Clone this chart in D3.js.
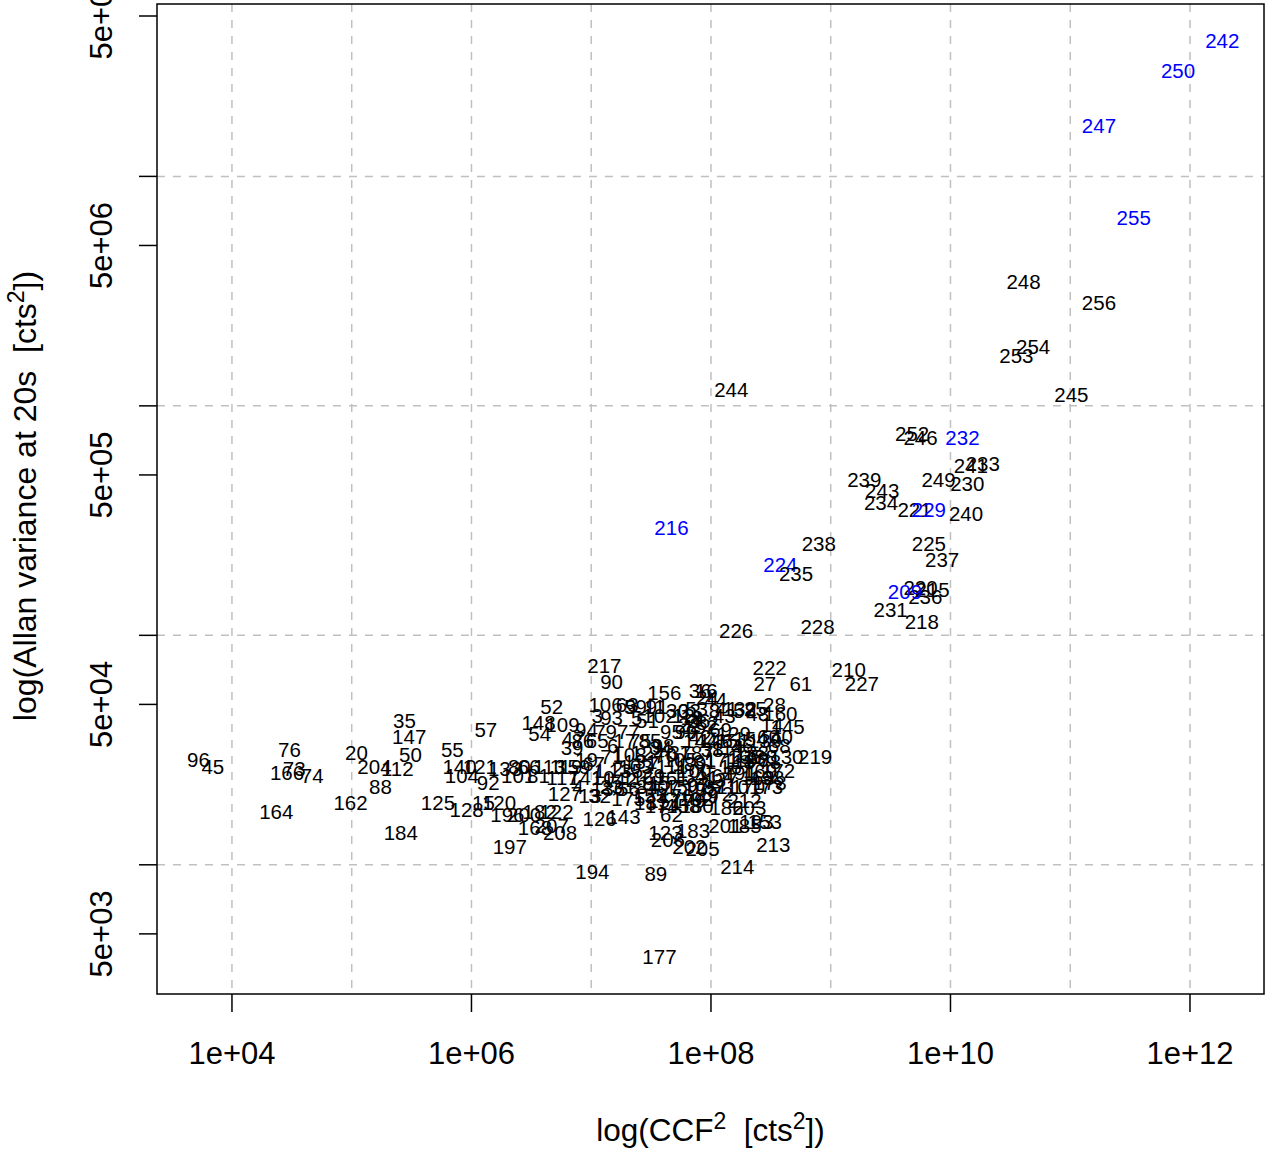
<!DOCTYPE html>
<html>
<head>
<meta charset="utf-8">
<script src="https://cdn.jsdelivr.net/npm/d3@7"></script>
<style>
  body { margin: 0; background: #fff; }
  text { font-family: "Liberation Sans", Arial, sans-serif; }
</style>
</head>
<body>
<div id="chart"></div>
<script>
// point ids (labels drawn at each point), log10 of CCF^2 and log10 of Allan variance
const ids = [
  242, 250, 247, 255, 248, 256, 254, 253, 245, 244,
  252, 246, 232, 241, 233, 239, 249, 230, 243, 234,
  221, 229, 240, 216, 238, 225, 237, 224, 235, 220,
  215, 236, 209, 231, 218, 228, 226, 222, 210, 27,
  61, 227, 217, 90,
  96, 45, 76, 73, 166, 74, 164, 20, 35, 147,
  50, 204, 112, 88, 162, 184, 125, 55, 140, 121,
  104, 92, 57, 128, 15, 120, 197, 52, 148, 109,
  54, 133, 196, 200, 182, 122, 168, 207, 208, 127,
  194, 89, 177, 32, 175, 126, 143, 62, 123, 183,
  206, 202, 205, 214, 213, 212, 186, 203, 201, 185,
  193, 153, 130, 219, 188, 156, 36, 16, 44, 24,
  106, 63, 11, 9, 3, 93, 5, 102, 28, 160,
  25, 48, 41, 132, 145, 14, 40, 139,
  47, 86, 65, 6, 17, 75, 85, 34, 95, 99,
  152, 69, 129, 42, 12, 18, 26, 82, 22, 67,
  71, 108, 124, 70, 37, 187, 38, 114, 46, 138,
  159, 1, 2, 103, 7, 111, 189, 31, 171, 118,
  190, 78, 117, 141, 10, 142, 116, 29, 161, 134,
  21, 64, 191, 163, 198, 4, 23, 56, 84, 107,
  150, 97, 87, 110, 170, 173, 13, 155, 157, 176,
  179, 192, 49, 72, 174, 51, 59, 91, 30, 33,
  53, 8, 43, 58, 144, 146, 151, 154, 60, 68,
  165, 167, 169, 172, 178, 77, 79, 94, 98, 100,
  105, 115, 131, 135, 136, 137, 158, 180, 181, 195,
  39, 19, 119, 80, 66, 113, 101, 81
];
const ccf = [
  12.27, 11.90, 11.24, 11.53, 10.61, 11.24, 10.69, 10.55, 11.01, 8.17,
  9.68, 9.75, 10.10, 10.17, 10.27, 9.28, 9.90, 10.14, 9.43, 9.42,
  9.70, 9.82, 10.13, 7.67, 8.90, 9.82, 9.93, 8.58, 8.71, 9.75,
  9.85, 9.79, 9.62, 9.50, 9.76, 8.89, 8.21, 8.49, 9.15, 8.45,
  8.75, 9.26, 7.11, 7.17,
  3.72, 3.84, 4.48, 4.52, 4.46, 4.67, 4.37, 5.04, 5.44, 5.48,
  5.49, 5.19, 5.38, 5.24, 4.99, 5.41, 5.72, 5.84, 5.90, 6.07,
  5.92, 6.14, 6.12, 5.96, 6.10, 6.23, 6.32, 6.67, 6.56, 6.76,
  6.57, 6.28, 6.30, 6.44, 6.57, 6.71, 6.53, 6.67, 6.74, 6.78,
  7.01, 7.54, 7.57, 7.07, 7.31, 7.07, 7.27, 7.67, 7.62, 7.85,
  7.64, 7.82, 7.93, 8.22, 8.52, 8.28, 8.13, 8.32, 8.12, 8.28,
  8.38, 8.45, 8.63, 8.87, 8.41, 7.61, 7.91, 7.96, 8.04, 7.97,
  7.12, 7.30, 7.53, 7.33, 7.05, 7.17, 7.38, 7.57, 8.53, 8.58,
  8.37, 8.39, 8.13, 8.24, 8.64, 8.51, 8.59, 8.45,
  6.85, 6.93, 7.05, 7.18, 7.28, 7.41, 7.49, 7.58, 7.67, 7.79,
  7.91, 8.08, 8.19, 7.91, 7.77, 7.84, 7.90, 7.97, 7.82, 7.02,
  7.17, 7.32, 7.47, 7.62, 7.74, 7.88, 8.01, 8.14, 8.26, 8.34,
  6.85, 7.07, 7.22, 7.37, 7.52, 7.67, 7.82, 7.95, 8.09, 8.23,
  8.34, 8.49, 6.76, 6.95, 7.10, 7.24, 7.39, 7.52, 7.67, 7.82,
  7.97, 8.10, 8.24, 8.39, 8.47, 6.89, 7.17, 7.31, 7.47, 7.60,
  7.76, 7.89, 8.03, 8.18, 8.31, 8.46, 6.99, 7.49, 7.61, 7.71,
  7.81, 7.88, 7.97, 8.09, 7.59, 7.47, 7.37, 7.55, 7.72, 7.82,
  7.88, 8.03, 8.11, 8.28, 7.91, 8.04, 8.18, 8.33, 8.48, 8.57,
  8.28, 8.21, 8.41, 8.56, 8.49, 7.31, 7.12, 6.96, 7.60, 7.86,
  7.74, 7.53, 7.41, 7.29, 7.14, 8.08, 7.77, 7.88, 7.50, 7.91,
  6.84, 6.96, 6.79, 6.40, 6.48, 6.65, 6.39, 6.56
];
const avar = [
  7.59, 7.46, 7.22, 6.82, 6.54, 6.45, 6.26, 6.22, 6.05, 6.07,
  5.88, 5.86, 5.86, 5.74, 5.75, 5.68, 5.68, 5.66, 5.63, 5.58,
  5.55, 5.55, 5.53, 5.47, 5.40, 5.40, 5.33, 5.31, 5.27, 5.21,
  5.20, 5.17, 5.19, 5.11, 5.06, 5.04, 5.02, 4.86, 4.85, 4.79,
  4.79, 4.79, 4.87, 4.80,
  4.46, 4.43, 4.50, 4.42, 4.40, 4.39, 4.23, 4.49, 4.63, 4.56,
  4.48, 4.43, 4.42, 4.34, 4.27, 4.14, 4.27, 4.50, 4.43, 4.43,
  4.39, 4.36, 4.59, 4.24, 4.27, 4.27, 4.08, 4.69, 4.62, 4.61,
  4.57, 4.42, 4.22, 4.22, 4.23, 4.23, 4.16, 4.17, 4.14, 4.31,
  3.97, 3.96, 3.60, 4.30, 4.29, 4.20, 4.21, 4.22, 4.14, 4.15,
  4.11, 4.08, 4.07, 3.99, 4.09, 4.28, 4.25, 4.25, 4.17, 4.17,
  4.19, 4.19, 4.47, 4.47, 4.47, 4.75, 4.76, 4.76, 4.72, 4.73,
  4.70, 4.70, 4.69, 4.69, 4.65, 4.64, 4.64, 4.65, 4.70, 4.66,
  4.68, 4.66, 4.68, 4.68, 4.60, 4.61, 4.56, 4.54,
  4.55, 4.54, 4.54, 4.52, 4.54, 4.54, 4.54, 4.51, 4.58, 4.58,
  4.60, 4.59, 4.57, 4.56, 4.65, 4.64, 4.63, 4.62, 4.61, 4.44,
  4.47, 4.48, 4.49, 4.48, 4.49, 4.49, 4.50, 4.51, 4.52, 4.49,
  4.43, 4.41, 4.42, 4.43, 4.44, 4.43, 4.44, 4.45, 4.46, 4.45,
  4.46, 4.45, 4.38, 4.38, 4.38, 4.37, 4.38, 4.39, 4.38, 4.39,
  4.38, 4.39, 4.40, 4.38, 4.38, 4.34, 4.34, 4.33, 4.34, 4.34,
  4.34, 4.35, 4.34, 4.34, 4.34, 4.34, 4.30, 4.30, 4.28, 4.30,
  4.28, 4.29, 4.30, 4.31, 4.26, 4.63, 4.69, 4.69, 4.67, 4.67,
  4.68, 4.67, 4.65, 4.67, 4.54, 4.54, 4.54, 4.55, 4.56, 4.52,
  4.47, 4.43, 4.41, 4.41, 4.36, 4.58, 4.58, 4.59, 4.52, 4.41,
  4.46, 4.36, 4.45, 4.41, 4.33, 4.37, 4.26, 4.26, 4.27, 4.33,
  4.51, 4.46, 4.43, 4.43, 4.43, 4.43, 4.39, 4.39
];
// ids drawn in blue
const blueIds = [242, 250, 247, 255, 232, 229, 216, 224, 209];

const xTicks = [1e4, 1e6, 1e8, 1e10, 1e12];
const xGrid = [1e4, 1e5, 1e6, 1e7, 1e8, 1e9, 1e10, 1e11, 1e12];
const yTicks = [5e3, 1e4, 5e4, 1e5, 5e5, 1e6, 5e6, 1e7, 5e7];
const yLabelled = [5e3, 5e4, 5e5, 5e6, 5e7];
const yGrid = [1e4, 1e5, 1e6, 1e7];

const W = 1270, H = 1156;
const plot = {left: 157, right: 1264, top: 4, bottom: 994};

const svg = d3.select("#chart").append("svg")
    .attr("width", W).attr("height", H);

const x = d3.scaleLog()
    .domain([2366, 4.15e12])
    .range([plot.left, plot.right]);
const y = d3.scaleLog()
    .domain([2735, 5.64e7])
    .range([plot.bottom, plot.top]);

function sci(v) {
    const e = Math.floor(Math.log10(v) + 1e-9);
    const m = Math.round(v / Math.pow(10, e));
    return m + "e+" + String(e).padStart(2, "0");
}

// grid
const grid = svg.append("g")
    .attr("stroke", "#c0c0c0")
    .attr("stroke-width", 1.5)
    .attr("stroke-dasharray", "8,8");
grid.selectAll(".vg").data(xGrid).enter().append("line")
    .attr("x1", d => x(d)).attr("x2", d => x(d))
    .attr("y1", plot.top).attr("y2", plot.bottom);
grid.selectAll(".hg").data(yGrid).enter().append("line")
    .attr("y1", d => y(d)).attr("y2", d => y(d))
    .attr("x1", plot.left).attr("x2", plot.right);

// point labels
const pts = ids.map((id, i) => ({id: id, cx: ccf[i], av: avar[i]}));
svg.append("g").selectAll("text")
    .data(pts)
    .enter().append("text")
    .attr("x", d => x(Math.pow(10, d.cx)))
    .attr("y", d => y(Math.pow(10, d.av)))
    .attr("dy", "0.36em")
    .attr("text-anchor", "middle")
    .style("font-size", "20.5px")
    .attr("fill", d => blueIds.includes(d.id) ? "#0000ff" : "#000")
    .text(d => d.id);

// box
svg.append("rect")
    .attr("x", plot.left).attr("y", plot.top)
    .attr("width", plot.right - plot.left)
    .attr("height", plot.bottom - plot.top)
    .attr("fill", "none")
    .attr("stroke", "#000")
    .attr("stroke-width", 1.5);

// x axis
const xa = svg.append("g");
xa.selectAll("line").data(xTicks).enter().append("line")
    .attr("x1", d => x(d)).attr("x2", d => x(d))
    .attr("y1", plot.bottom).attr("y2", plot.bottom + 18)
    .attr("stroke", "#000").attr("stroke-width", 1.5);
xa.selectAll("text").data(xTicks).enter().append("text")
    .attr("x", d => x(d)).attr("y", 1064)
    .attr("text-anchor", "middle")
    .style("font-size", "31px")
    .text(sci);

// y axis
const ya = svg.append("g");
ya.selectAll("line").data(yTicks).enter().append("line")
    .attr("y1", d => y(d)).attr("y2", d => y(d))
    .attr("x1", plot.left).attr("x2", plot.left - 18)
    .attr("stroke", "#000").attr("stroke-width", 1.5);
ya.selectAll("text").data(yLabelled).enter().append("text")
    .attr("transform", d => `translate(112,${y(d)}) rotate(-90)`)
    .attr("text-anchor", "middle")
    .style("font-size", "31px")
    .text(sci);

// axis titles
const xt = svg.append("text")
    .attr("x", (plot.left + plot.right) / 2).attr("y", 1141)
    .attr("text-anchor", "middle")
    .style("font-size", "31.5px");
xt.append("tspan").text("log(CCF");
xt.append("tspan").attr("dy", -12).style("font-size", "23px").text("2");
xt.append("tspan").attr("dy", 12).text("\u00a0\u00a0[cts");
xt.append("tspan").attr("dy", -12).style("font-size", "23px").text("2");
xt.append("tspan").attr("dy", 12).text("])");

const yt = svg.append("text")
    .attr("transform", `translate(36,${(plot.top + plot.bottom) / 2 - 3}) rotate(-90)`)
    .attr("text-anchor", "middle")
    .style("font-size", "32px");
yt.append("tspan").text("log(Allan variance at 20s\u00a0\u00a0[cts");
yt.append("tspan").attr("dy", -12).style("font-size", "23px").text("2");
yt.append("tspan").attr("dy", 12).text("])");
</script>
</body>
</html>
